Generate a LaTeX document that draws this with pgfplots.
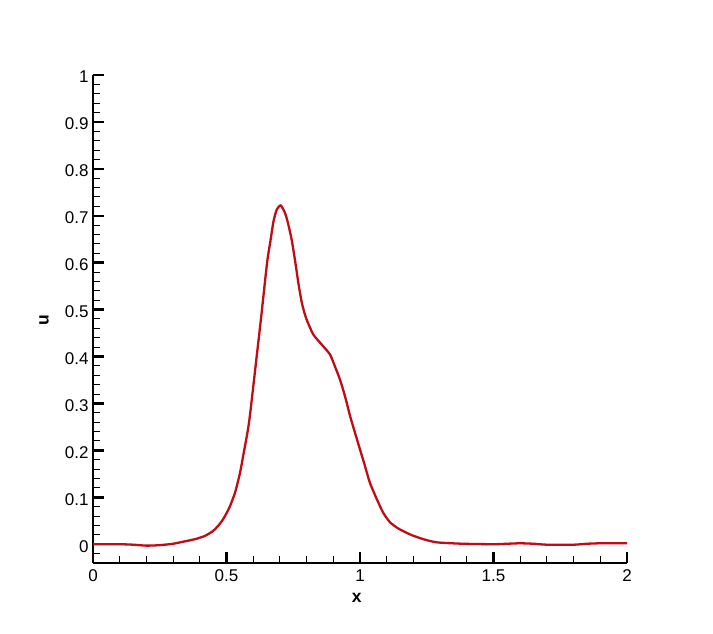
\documentclass[border=0pt]{standalone}
\usepackage{fontspec}
\setmainfont{Liberation Sans}
\usepackage{pgfplots}
\pgfplotsset{compat=1.18}

\definecolor{curvered}{RGB}{192,12,20}

\begin{document}
\begin{tikzpicture}
\path (0pt,0pt) rectangle (713pt,634pt);
\begin{axis}[
  at={(93pt,71pt)}, anchor=south west,
  scale only axis,
  width=534pt, height=488pt,
  xmin=0, xmax=2,
  ymin=-0.04, ymax=1,
  axis x line=bottom, axis y line=left,
  axis line style={-, line width=2.2pt},
  tick align=inside,
  xtick={0,0.5,1,1.5,2},
  xticklabels={0,0.5,1,1.5,2},
  minor xtick={0.1,0.2,0.3,0.4,0.6,0.7,0.8,0.9,1.1,1.2,1.3,1.4,1.6,1.7,1.8,1.9},
  ytick={0,0.1,0.2,0.3,0.4,0.5,0.6,0.7,0.8,0.9,1},
  yticklabels={0,0.1,0.2,0.3,0.4,0.5,0.6,0.7,0.8,0.9,1},
  minor ytick={-0.04,-0.02,0.02,0.04,0.06,0.08,0.12,0.14,0.16,0.18,0.22,0.24,0.26,0.28,0.32,0.34,0.36,0.38,0.42,0.44,0.46,0.48,0.52,0.54,0.56,0.58,0.62,0.64,0.66,0.68,0.72,0.74,0.76,0.78,0.82,0.84,0.86,0.88,0.92,0.94,0.96,0.98},
  major tick length=11pt,
  minor tick length=6.5pt,
  major tick style={line width=2.5pt, black},
  minor tick style={line width=1pt, black},
  tick label style={font=\fontsize{17}{20}\selectfont},
  /pgf/number format/assume math mode=true,
  xticklabel style={yshift=-3pt},
  yticklabel style={xshift=-1pt, yshift=-2pt},
  xlabel={\textbf{x}},
  ylabel={\textbf{u}},
  label style={font=\fontsize{17.5}{20}\selectfont},
  xlabel style={at={(axis description cs:0.494,-0.0717)}, anchor=center},
  ylabel style={at={(axis description cs:-0.0918,0.497)}, anchor=center},
  clip=false,
]
\addplot[curvered, line width=2.3pt, smooth, tension=0.4] coordinates {
(0,0) (0.1,0) (0.15,-0.001) (0.2,-0.003) (0.25,-0.002) (0.3,0.001)
(0.326,0.004) (0.36,0.008) (0.39,0.012) (0.42,0.018) (0.449,0.028)
(0.47,0.040) (0.487,0.053) (0.50,0.066) (0.513,0.081) (0.532,0.11)
(0.551,0.153) (0.562,0.187) (0.576,0.23) (0.584,0.258) (0.591,0.29)
(0.61,0.385) (0.63,0.485) (0.652,0.6) (0.665,0.648)
(0.676,0.688) (0.688,0.713) (0.703,0.722) (0.719,0.706) (0.73,0.685)
(0.744,0.649) (0.758,0.6) (0.769,0.557) (0.782,0.515) (0.791,0.495)
(0.80,0.479) (0.825,0.447) (0.862,0.422) (0.888,0.404) (0.906,0.379)
(0.925,0.351)
(0.944,0.315) (0.963,0.273) (0.981,0.238) (1.0,0.202) (1.019,0.166)
(1.037,0.131) (1.063,0.096) (1.087,0.067) (1.112,0.047) (1.142,0.034)
(1.187,0.021) (1.236,0.011) (1.288,0.004) (1.386,0.001) (1.5,0)
(1.55,0.001) (1.6,0.002) (1.65,0.001) (1.7,-0.001) (1.8,-0.001)
(1.85,0.001) (1.9,0.002) (2.0,0.002)
};
\end{axis}
\end{tikzpicture}
\end{document}
